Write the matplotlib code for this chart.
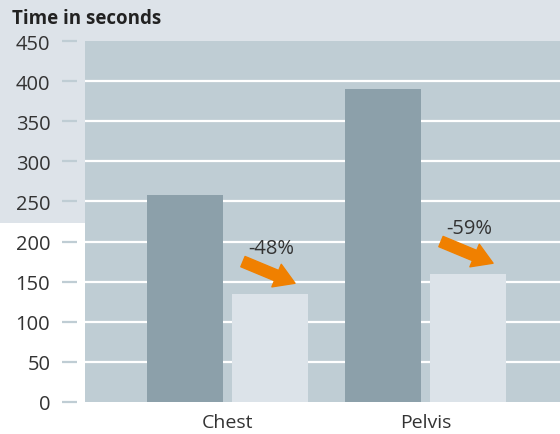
import matplotlib
matplotlib.use("Agg")
import matplotlib.pyplot as plt
from matplotlib.patches import Rectangle
import matplotlib.transforms as mtransforms

plt.rcParams['font.family'] = ['Open Sans', 'DejaVu Sans']

categories = ["Chest", "Pelvis"]
before = [258, 390]
after = [135, 160]
reductions = ["-48%", "-59%"]
yticks = [0, 50, 100, 150, 200, 250, 300, 350, 400, 450]

fig = plt.figure(figsize=(5.6, 4.35), dpi=100)
fig.patch.set_facecolor("white")
bg = Rectangle((0, 1 - 224 / 435), 1, 224 / 435, transform=fig.transFigure,
               facecolor="#dde3e9", edgecolor="none", zorder=-10)
fig.patches.append(bg)

ax = fig.add_axes([85 / 560, 1 - 403 / 435, 475 / 560, 361 / 435])
ax.set_zorder(1)
ax.set_facecolor("#bfcdd4")
for s in ax.spines.values():
    s.set_visible(False)

x = list(range(len(categories)))
w = 0.384
off = 0.2146
ax.bar([i - off for i in x], before, width=w, color="#8ca0aa", zorder=3)
ax.bar([i + off for i in x], after, width=w, color="#dce3e9", zorder=3)

ax.set_ylim(0, 450)
ax.set_xlim(-0.7197, 1.679)
ax.set_yticks(yticks)
ax.set_yticklabels([str(t) for t in yticks], fontsize=14.5, color="#333333")
ax.tick_params(axis='y', length=0, pad=25)
ax.set_xticks(x)
ax.set_xticklabels(categories, fontsize=14, color="#333333")
ax.tick_params(axis='x', length=0, pad=8)

for t in yticks[1:-1]:
    ax.axhline(t, color="white", lw=1.6, zorder=2)

trans = mtransforms.blended_transform_factory(ax.transAxes, ax.transData)
for t in yticks:
    ax.plot([-0.0484, -0.0168], [t, t], transform=trans, color="#bfcdd4", lw=1.6,
            clip_on=False, solid_capstyle="butt")

for i, (a, r) in enumerate(zip(after, reductions)):
    ax.annotate("", xy=(i + 0.341, a + 13), xytext=(i + 0.078, a + 40),
                arrowprops=dict(arrowstyle="simple,head_length=0.9,head_width=1.1,tail_width=0.5",
                                color="#f08000", mutation_scale=16, shrinkA=0, shrinkB=0),
                zorder=5)
    ax.text(i + 0.22, a + 57, r, ha="center", va="center", fontsize=14.5, color="#333333", zorder=5)

fig.text(12 / 560, 1 - 19 / 435, "Time in seconds", fontsize=13.5, fontweight="bold",
         color="#222222", ha="left", va="center")

fig.savefig("out.png", dpi=100)
